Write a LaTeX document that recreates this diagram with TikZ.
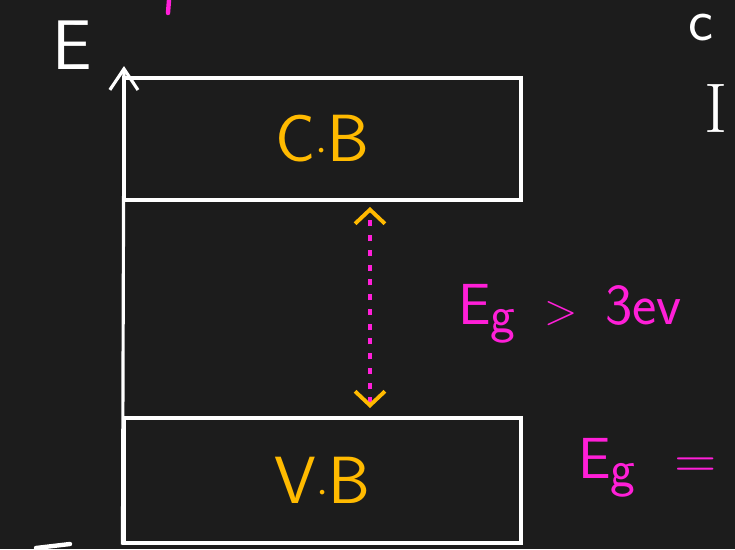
\documentclass[tikz,border=0pt]{standalone}
\usepackage{tikz}
\usetikzlibrary{arrows.meta,positioning}

\definecolor{board}{HTML}{1C1C1C}
\definecolor{chalkyellow}{HTML}{FFBA00}
\definecolor{chalkpink}{HTML}{FF1FD8}

\tikzset{
  band/.style={draw=white, line width=1.8pt, minimum width=7.94cm, inner sep=0pt,
    text=chalkyellow, font=\sffamily\fontsize{38}{42}\selectfont},
  note/.style={text=chalkpink, inner sep=0pt, font=\sffamily\fontsize{33}{38}\selectfont},
  chalk/.style={text=white, inner sep=0pt, font=\sffamily\fontsize{40}{44}\selectfont},
}

\begin{document}
\begin{tikzpicture}[x=0.02cm, y=-0.02cm]

  % board
  \useasboundingbox (0,0) rectangle (735,549);
  \fill[board] (0,0) rectangle (735,549);
  \clip (0,0) rectangle (735,549);

  % conduction and valence bands
  \node[band, minimum height=2.44cm] (cb) at (322.5,139) {C$\cdot$B};
  \node[band, minimum height=2.5cm] (vb) at (322.5,480.5) {V$\cdot$B};

  % energy axis
  \coordinate (etop) at (124,66);
  \draw[white, line width=1.8pt, -{Straight Barb[length=12pt, width=16pt, line width=1.8pt]}] (vb.south west) -- (etop);
  \node[chalk] (E) at (72,45) {E};

  % band gap
  \coordinate (gtop) at (370,207);
  \coordinate (gbot) at (370,408);
  \draw[chalkpink, line width=2.4pt, dash pattern=on 3.4pt off 5pt,
    {Straight Barb[color=chalkyellow, length=8pt, width=17pt, line width=2.2pt]}-{Straight Barb[color=chalkyellow, length=8pt, width=17pt, line width=2.2pt]}]
    (gbot) -- (gtop);
  \node[note] (gap) at (570,314) {E\textsubscript{\fontsize{30}{30}\selectfont g}\, $>$\, 3ev};
  \node[note, anchor=west] (gapeq) at (578,468) {E\textsubscript{\fontsize{30}{30}\selectfont g}\,\, =};

  % cut-off writing at the edges
  \node[chalk, anchor=west, font=\sffamily\fontsize{34}{38}\selectfont] (c) at (688,28) {c};
  \node[chalk, font=\rmfamily\fontsize{40}{44}\selectfont] (I) at (716,108) {I};
  \draw[chalkpink, line width=2.5pt, line cap=round] (169,0) -- (168,13);
  \draw[white, line width=2.5pt, line cap=round] (36,548) -- (70,544);

\end{tikzpicture}
\end{document}
